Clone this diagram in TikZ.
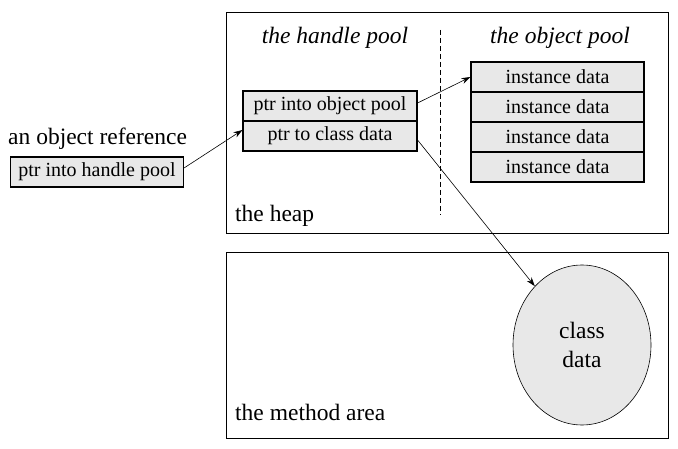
\documentclass[tikz,border=0pt]{standalone}
\usepackage{fontspec}
\setmainfont{Liberation Serif}
\usetikzlibrary{arrows.meta,shapes.geometric}
\definecolor{boxgray}{HTML}{E8E8E8}
\begin{document}
\begin{tikzpicture}[x=1pt,y=-1pt,
  area/.style={draw,line width=1pt},
  cell/.style={draw,line width=1.1pt,fill=boxgray,minimum width=174pt,minimum height=30pt,inner sep=0pt,font=\fontsize{20}{23}\selectfont},
  big/.style={font=\fontsize{23.5}{27}\selectfont,inner sep=0pt},
  ptr/.style={-{Stealth[length=9pt,width=6pt]},line width=0.6pt}]
\useasboundingbox (0,0) rectangle (678,449);
\draw[area] (226,13) rectangle (668,234);
\draw[area] (226,253) rectangle (668,438);
\draw[dashed,line width=0.8pt,dash pattern=on 5pt off 3pt] (440,30) -- (440,215);
\node[big,font=\fontsize{23.5}{27}\selectfont\itshape,anchor=base] (hpl) at (335,44) {the handle pool};
\node[big,font=\fontsize{23.5}{27}\selectfont\itshape,anchor=base] (opl) at (560,44) {the object pool};
\node[big,anchor=base west] (heapl) at (235,222) {the heap};
\node[big,anchor=base west] (mal) at (235,420) {the method area};
\node[big,anchor=base west] (refl) at (8,145) {an object reference};
\node[cell] (hp1) at (330,106) {ptr into object pool};
\node[cell] (hp2) at (330,136) {ptr to class data};
\node[cell,minimum width=173pt] (od1) at (557.5,77) {instance data};
\node[cell,minimum width=173pt] (od2) at (557.5,107) {instance data};
\node[cell,minimum width=173pt] (od3) at (557.5,137) {instance data};
\node[cell,minimum width=173pt] (od4) at (557.5,167) {instance data};
\node[cell,minimum width=173pt] (ref) at (97,172) {ptr into handle pool};
\node[ellipse,draw,line width=0.6pt,fill=boxgray,minimum width=138pt,minimum height=160pt,inner sep=0pt,align=center,font=\fontsize{23.5}{29}\selectfont] (cls) at (582,345) {class\\data};
\draw[ptr] ([yshift=4pt]ref.east) -- ([yshift=6pt]hp2.west);
\draw[ptr] ([yshift=3pt]hp1.east) -- (od1.west);
\draw[ptr] ([yshift=-4pt]hp2.east) -- (cls);
\end{tikzpicture}
\end{document}
